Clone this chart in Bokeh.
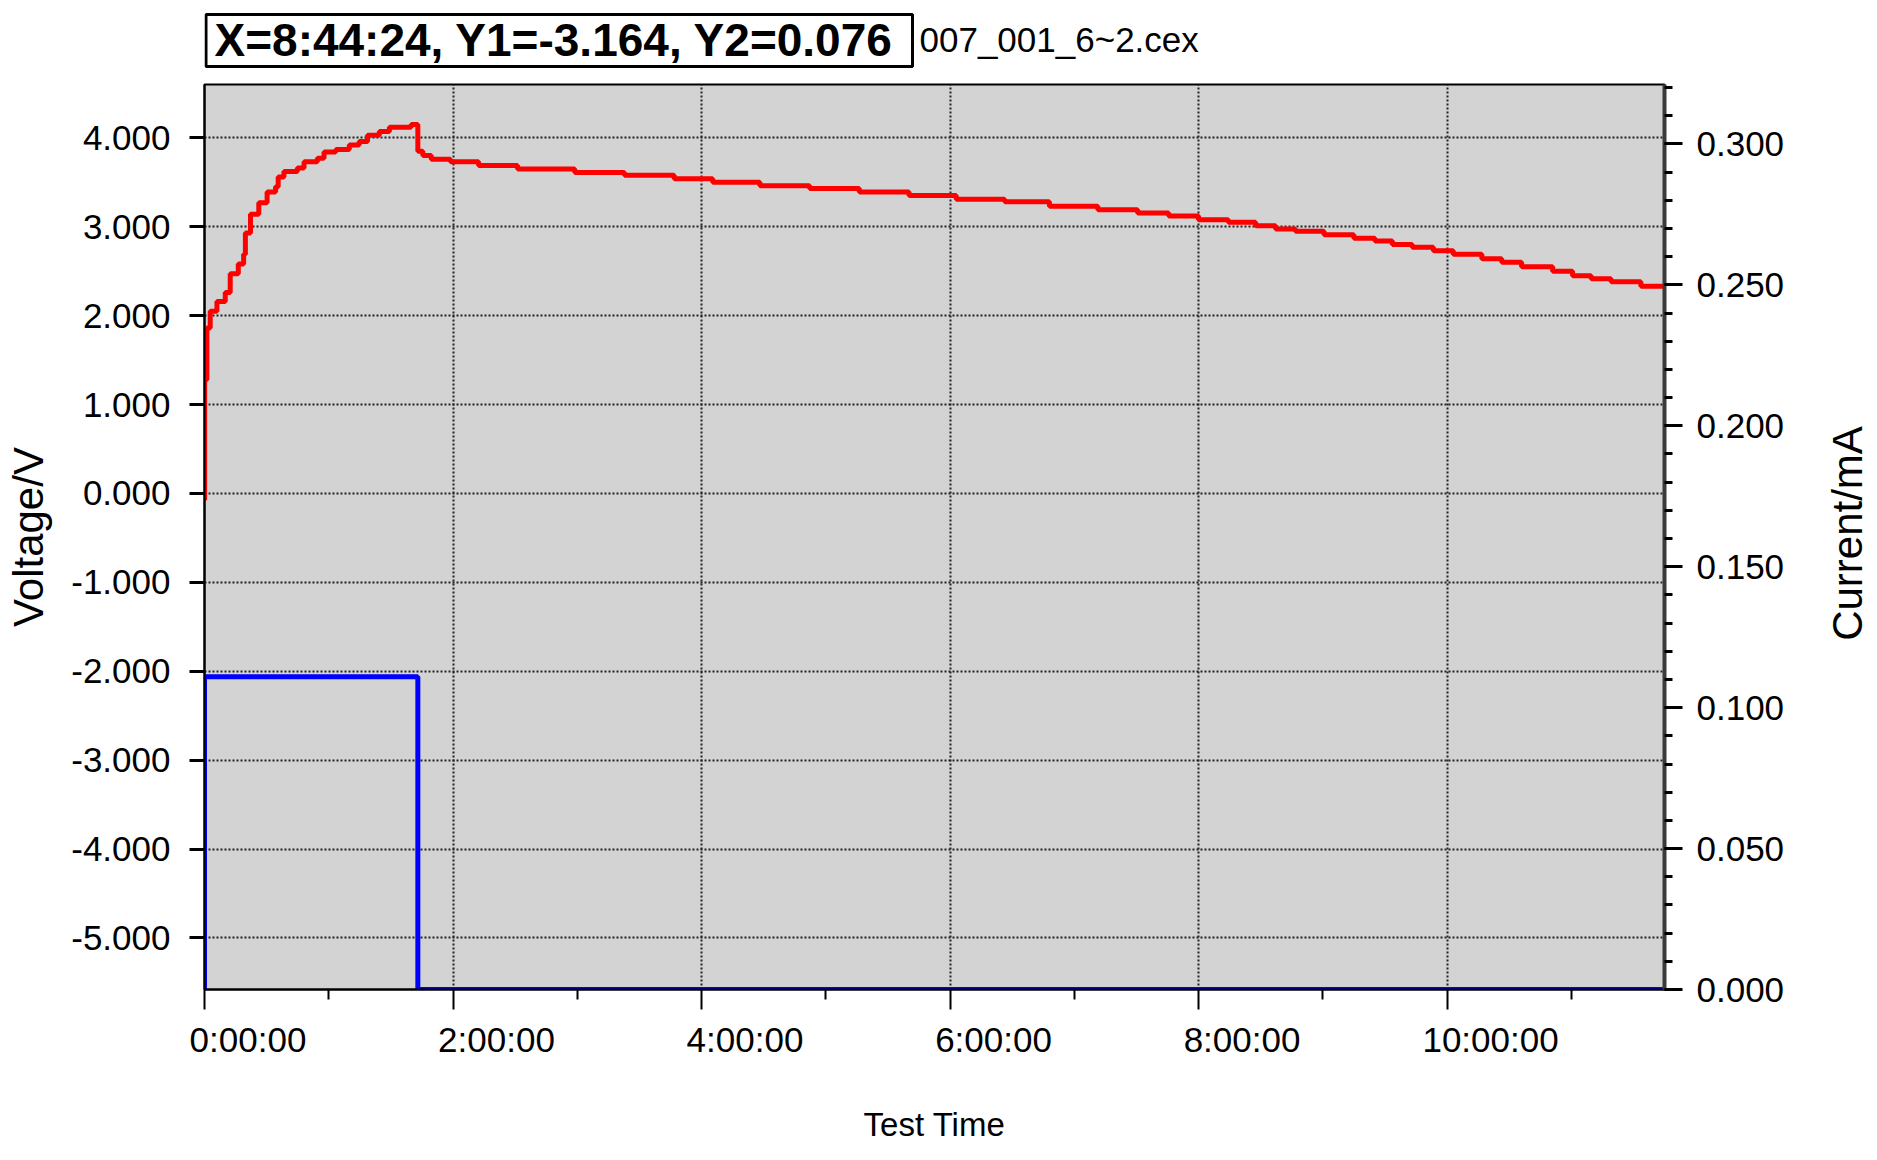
import math
from bokeh.plotting import figure
from bokeh.layouts import column, row
from bokeh.models import (Range1d, LinearAxis, FixedTicker, SingleIntervalTicker,
                          NumeralTickFormatter)
from bokeh.core.properties import value
from bokeh.embed import file_html
from bokeh.resources import INLINE

# ---------------- data ----------------
time_h = [0.0, 0.001, 0.019, 0.046, 0.100, 0.167, 0.207, 0.272, 0.315, 0.329,
          0.370, 0.437, 0.504, 0.572, 0.593, 0.639, 0.747, 0.801, 0.908, 0.962,
          1.057, 1.165, 1.245, 1.312, 1.407, 1.488, 1.663, 1.717, 1.757, 1.825,
          1.98, 2.206, 2.52, 2.98, 3.38, 3.78, 4.09, 4.47, 4.87, 5.27,
          5.67, 6.05, 6.44, 6.80, 7.19, 7.51, 7.76, 8.0, 8.24, 8.46,
          8.62, 8.78, 9.01, 9.25, 9.42, 9.56, 9.72, 9.89, 10.05, 10.28,
          10.44, 10.60, 10.85, 11.01, 11.16, 11.32, 11.56, 11.75]
voltage_v = [-0.07, 1.28, 1.86, 2.05, 2.16, 2.26, 2.47, 2.58, 2.69, 2.93,
             3.14, 3.27, 3.39, 3.45, 3.56, 3.62, 3.66, 3.73, 3.77, 3.84,
             3.87, 3.92, 3.96, 4.03, 4.07, 4.12, 4.15, 3.85, 3.80, 3.76,
             3.73, 3.69, 3.65, 3.61, 3.58, 3.54, 3.50, 3.46, 3.43, 3.39,
             3.35, 3.31, 3.28, 3.23, 3.19, 3.155, 3.12, 3.08, 3.05, 3.01,
             2.975, 2.95, 2.91, 2.87, 2.84, 2.80, 2.77, 2.73, 2.69, 2.64,
             2.60, 2.55, 2.50, 2.45, 2.415, 2.38, 2.33, 2.33]

current_time_h = [0.0, 0.0, 1.717, 1.717, 11.75]
current_ma = [0.0, 0.111, 0.111, 0.0, 0.0]

x_ticks = [0, 2, 4, 6, 8, 10]
x_tick_labels = ["0:00:00", "2:00:00", "4:00:00", "6:00:00", "8:00:00", "10:00:00"]
x_minor_ticks = [1, 3, 5, 7, 9, 11]
y_left_ticks = [-5, -4, -3, -2, -1, 0, 1, 2, 3, 4]

cursor_readout = "X=8:44:24, Y1=-3.164, Y2=0.076"
file_name = "007_001_6~2.cex"
x_title = "Test Time"
y_left_title = "Voltage/V"
y_right_title = "Current/mA"

FONT = "Liberation Sans"
FW, FH = 1460, 905
X_END = 11.75
LABEL_SHIFT_H = 0.35        # tick labels sit to the right of their ticks
LEFT_B, RIGHT_B, TOP_B, BOT_B = 204, 130, 14, 160
CANVAS_W = 1876
HEAD_H = 70
SIDE_W = CANVAS_W - (LEFT_B + FW + RIGHT_B)

# ---------------- header strip ----------------
head = figure(width=CANVAS_W, height=HEAD_H,
              x_range=Range1d(LEFT_B, LEFT_B + FW), y_range=Range1d(0, HEAD_H),
              x_axis_type=None, y_axis_type=None,
              min_border_left=LEFT_B, min_border_right=CANVAS_W - LEFT_B - FW,
              min_border_top=0, min_border_bottom=0,
              toolbar_location=None, output_backend="svg",
              outline_line_color=None, background_fill_color="white",
              border_fill_color="white")
head.grid.visible = False
head.quad(left=[205.5], right=[912], bottom=[4], top=[56],
          fill_color="white", line_color="black", line_width=3)
head.text(x=[214], y=[31], text=[cursor_readout], text_font=value(FONT),
          text_font_size="46px", text_font_style="bold", text_color="black",
          text_align="left", text_baseline="middle")
head.text(x=[919], y=[31], text=[file_name], text_font=value(FONT),
          text_font_size="35px", text_color="black",
          text_align="left", text_baseline="middle")

# ---------------- main plot ----------------
p = figure(frame_width=FW, frame_height=FH,
           x_range=Range1d(0, X_END), y_range=Range1d(-5.58, 4.60),
           output_backend="svg", toolbar_location=None,
           min_border_left=LEFT_B, min_border_right=RIGHT_B,
           min_border_top=TOP_B, min_border_bottom=BOT_B,
           background_fill_color="#d3d3d3", border_fill_color="white",
           outline_line_color="black", outline_line_width=2)
p.extra_y_ranges = {"current": Range1d(0, 0.3211)}
p.extra_x_ranges = {"labels": Range1d(-LABEL_SHIFT_H, X_END - LABEL_SHIFT_H)}

# x axis: tick marks
xa = p.xaxis[0]
xa.ticker = FixedTicker(ticks=x_ticks, minor_ticks=x_minor_ticks)
xa.major_label_text_font_size = "0px"
xa.major_label_text_color = None
xa.major_label_standoff = 0
xa.major_tick_out = 20
xa.major_tick_in = 0
xa.minor_tick_out = 10
xa.minor_tick_in = 0
xa.major_tick_line_color = "black"
xa.minor_tick_line_color = "black"
xa.major_tick_line_width = 2
xa.minor_tick_line_width = 2
xa.axis_line_color = "black"
xa.axis_line_width = 2

# x axis: tick labels + title
xl = LinearAxis(x_range_name="labels",
                ticker=FixedTicker(ticks=x_ticks, minor_ticks=[]))
xl.major_label_overrides = dict(zip(x_ticks, x_tick_labels))
xl.major_label_text_font = FONT
xl.major_label_text_font_size = "35px"
xl.major_label_text_color = "black"
xl.major_label_standoff = 10
xl.major_tick_out = 0
xl.major_tick_in = 0
xl.minor_tick_out = 0
xl.minor_tick_in = 0
xl.major_tick_line_color = None
xl.minor_tick_line_color = None
xl.axis_line_color = None
xl.axis_label = x_title
xl.axis_label_text_font = FONT
xl.axis_label_text_font_size = "33px"
xl.axis_label_text_font_style = "normal"
xl.axis_label_text_color = "black"
xl.axis_label_standoff = 44
p.add_layout(xl, "below")

# left axis
ya = p.yaxis[0]
ya.ticker = FixedTicker(ticks=y_left_ticks)
ya.formatter = NumeralTickFormatter(format="0.000")
ya.major_label_text_font = FONT
ya.major_label_text_font_size = "35px"
ya.major_label_text_color = "black"
ya.major_label_standoff = 19
ya.major_tick_out = 15
ya.major_tick_in = 0
ya.major_tick_line_width = 3
ya.major_tick_line_color = "black"
ya.minor_tick_line_color = None
ya.axis_line_color = "black"
ya.axis_line_width = 2
ya.axis_label = y_left_title
ya.axis_label_text_font = FONT
ya.axis_label_text_font_size = "42px"
ya.axis_label_text_font_style = "normal"
ya.axis_label_text_color = "black"
ya.axis_label_standoff = 16

# right axis (ticks + labels)
ra = LinearAxis(y_range_name="current",
                ticker=SingleIntervalTicker(interval=0.05, num_minor_ticks=5),
                formatter=NumeralTickFormatter(format="0.000"))
ra.major_label_text_font = FONT
ra.major_label_text_font_size = "35px"
ra.major_label_text_color = "black"
ra.major_label_standoff = 14
ra.major_tick_out = 18
ra.major_tick_in = 0
ra.minor_tick_out = 8
ra.minor_tick_in = 0
ra.major_tick_line_width = 3
ra.minor_tick_line_width = 3
ra.major_tick_line_color = "black"
ra.minor_tick_line_color = "black"
ra.axis_line_color = "#3a3a3a"
ra.axis_line_width = 4
p.add_layout(ra, "right")

# grids
for g in (p.xgrid[0], p.ygrid[0]):
    g.grid_line_color = "#222222"
    g.grid_line_dash = "2 2"
    g.grid_line_width = 2

# series
p.step(time_h, voltage_v, mode="after", line_color="#ff0000", line_width=5)
p.line(current_time_h, current_ma, y_range_name="current",
       line_color="#0000ff", line_width=5)

# ---------------- right-hand title strip (reads bottom-to-top) ----------------
side = figure(width=SIDE_W, height=TOP_B + FH + BOT_B,
              x_range=Range1d(0, SIDE_W), y_range=Range1d(0, FH),
              x_axis_type=None, y_axis_type=None,
              min_border_left=0, min_border_right=0,
              min_border_top=TOP_B, min_border_bottom=BOT_B,
              toolbar_location=None, output_backend="svg",
              outline_line_color=None, background_fill_color="white",
              border_fill_color="white")
side.grid.visible = False
side.text(x=[1847 - (LEFT_B + FW + RIGHT_B)], y=[456], text=[y_right_title],
          angle=math.pi / 2, text_font=value(FONT), text_font_size="42px",
          text_color="black", text_align="center", text_baseline="middle")

layout = column(head, row(p, side, spacing=0), spacing=0)
open("out.html", "w").write(file_html(layout, INLINE))
